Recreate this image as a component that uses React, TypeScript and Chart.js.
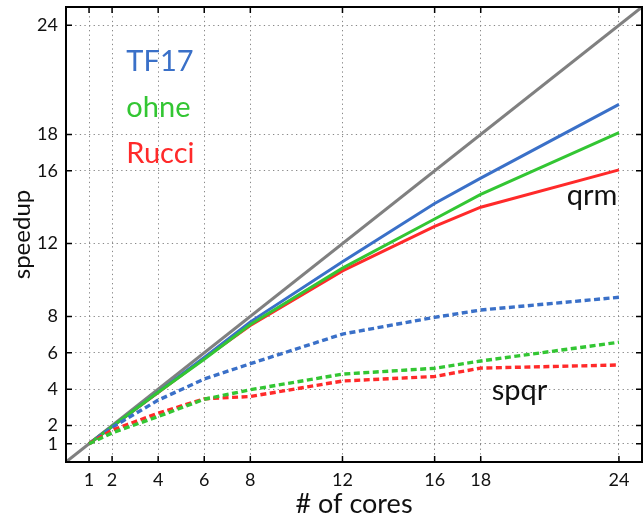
import React, { useEffect, useRef } from "react";
import { Chart, registerables } from "chart.js";

Chart.register(...registerables);

const cores = [1, 2, 4, 6, 8, 12, 16, 18, 24];
const tickValues = [1, 2, 4, 6, 8, 12, 16, 18, 24];
const idealX = [0, 25];
const idealY = [0, 25];

const qrmTF17 = [1, 1.95, 3.85, 5.75, 7.7, 11.0, 14.2, 15.6, 19.65];
const qrmOhne = [1, 1.95, 3.83, 5.65, 7.55, 10.65, 13.35, 14.7, 18.1];
const qrmRucci = [1, 1.95, 3.82, 5.7, 7.5, 10.5, 12.95, 14.0, 16.05];
const spqrTF17 = [1, 1.9, 3.4, 4.56, 5.4, 7.03, 7.95, 8.35, 9.05];
const spqrOhne = [1, 1.6, 2.5, 3.45, 3.97, 4.83, 5.15, 5.55, 6.58];
const spqrRucci = [1, 1.75, 2.68, 3.47, 3.6, 4.45, 4.7, 5.16, 5.33];

const seriesNames = ["TF17", "ohne", "Rucci"];
const BLUE = "#3a70c8";
const GREEN = "#33c633";
const RED = "#ff2a2a";
const GREY = "#808080";
const FONT = "Lato, 'DejaVu Sans', sans-serif";

// annotation positions in data units
const legendLabels = [
  { text: seriesNames[0], x: 2.62, y: 21.5, color: BLUE },
  { text: seriesNames[1], x: 2.62, y: 18.97, color: GREEN },
  { text: seriesNames[2], x: 2.62, y: 16.45, color: RED },
  { text: "qrm", x: 21.73, y: 14.12, color: "#111" },
  { text: "spqr", x: 18.48, y: 3.41, color: "#111" },
];

const toPts = (xs: number[], ys: number[]) => xs.map((x, i) => ({ x, y: ys[i] }));

const boxPlugin = {
  id: "boxPlugin",
  afterDatasetsDraw(chart: any) {
    const { ctx, chartArea: a, scales } = chart;
    ctx.save();
    ctx.font = `29px ${FONT}`;
    ctx.textAlign = "left";
    ctx.textBaseline = "alphabetic";
    for (const l of legendLabels) {
      ctx.fillStyle = l.color;
      ctx.fillText(l.text, scales.x.getPixelForValue(l.x), scales.y.getPixelForValue(l.y));
    }
    ctx.strokeStyle = "#000";
    ctx.lineWidth = 2;
    ctx.strokeRect(a.left, a.top, a.right - a.left, a.bottom - a.top);
    const tl = 6;
    ctx.lineWidth = 1.5;
    ctx.beginPath();
    for (const v of tickValues) {
      const px = scales.x.getPixelForValue(v);
      ctx.moveTo(px, a.bottom);
      ctx.lineTo(px, a.bottom - tl);
      ctx.moveTo(px, a.top);
      ctx.lineTo(px, a.top + tl);
      const py = scales.y.getPixelForValue(v);
      ctx.moveTo(a.left, py);
      ctx.lineTo(a.left + tl, py);
      ctx.moveTo(a.right, py);
      ctx.lineTo(a.right - tl, py);
    }
    ctx.stroke();
    ctx.restore();
  },
};

export default function App() {
  const ref = useRef<HTMLCanvasElement>(null);
  useEffect(() => {
    document.body.style.margin = "0";
    const solid = (label: string, ys: number[], color: string, order: number) => ({
      label,
      data: toPts(cores, ys),
      borderColor: color,
      backgroundColor: color,
      borderWidth: 3,
      pointRadius: 0,
      tension: 0,
      order,
    });
    const dashed = (label: string, ys: number[], color: string, order: number) => ({
      ...solid(label, ys, color, order),
      borderWidth: 3.4,
      borderDash: [6, 3.5],
    });
    const chart = new Chart(ref.current!, {
      type: "line",
      data: {
        datasets: [
          { label: "ideal", data: toPts(idealX, idealY), borderColor: GREY, borderWidth: 3, pointRadius: 0, order: 10 },
          solid("qrm " + seriesNames[0], qrmTF17, BLUE, 8),
          solid("qrm " + seriesNames[2], qrmRucci, RED, 9),
          solid("qrm " + seriesNames[1], qrmOhne, GREEN, 7),
          dashed("spqr " + seriesNames[0], spqrTF17, BLUE, 6),
          dashed("spqr " + seriesNames[2], spqrRucci, RED, 5),
          dashed("spqr " + seriesNames[1], spqrOhne, GREEN, 4),
        ] as any,
      },
      options: {
        responsive: false,
        animation: false,
        devicePixelRatio: 1,
        layout: { padding: { top: 7, right: 2, left: 0, bottom: 0 } },
        plugins: { legend: { display: false }, tooltip: { enabled: false } },
        scales: {
          x: {
            type: "linear",
            min: 0,
            max: 25,
            afterBuildTicks: (s: any) => {
              s.ticks = tickValues.map((v) => ({ value: v }));
            },
            afterFit: (s: any) => {
              s.height = 58;
              s.paddingLeft = 0;
              s.paddingRight = 0;
            },
            ticks: { color: "#111", font: { family: FONT, size: 18 }, padding: 7, maxRotation: 0, autoSkip: false },
            grid: { color: "#888", lineWidth: 1, drawTicks: false },
            border: { display: false, dash: [1.3, 3.3] },
            title: { display: true, text: "# of cores", color: "#111", font: { family: FONT, size: 27 }, padding: { top: 0, bottom: 0 } },
          },
          y: {
            type: "linear",
            min: 0,
            max: 25,
            afterBuildTicks: (s: any) => {
              s.ticks = tickValues.map((v) => ({ value: v }));
            },
            afterFit: (s: any) => {
              s.width = 66;
              s.paddingTop = 0;
              s.paddingBottom = 0;
            },
            ticks: { color: "#111", font: { family: FONT, size: 18 }, padding: 8, autoSkip: false },
            grid: { color: "#888", lineWidth: 1, drawTicks: false },
            border: { display: false, dash: [1.3, 3.3] },
            title: { display: true, text: "speedup", color: "#111", font: { family: FONT, size: 24 }, padding: { top: 8, bottom: 0 } },
          },
        },
      } as any,
      plugins: [boxPlugin],
    });
    return () => chart.destroy();
  }, []);
  return <canvas ref={ref} width={644} height={520} style={{ display: "block" }} />;
}
